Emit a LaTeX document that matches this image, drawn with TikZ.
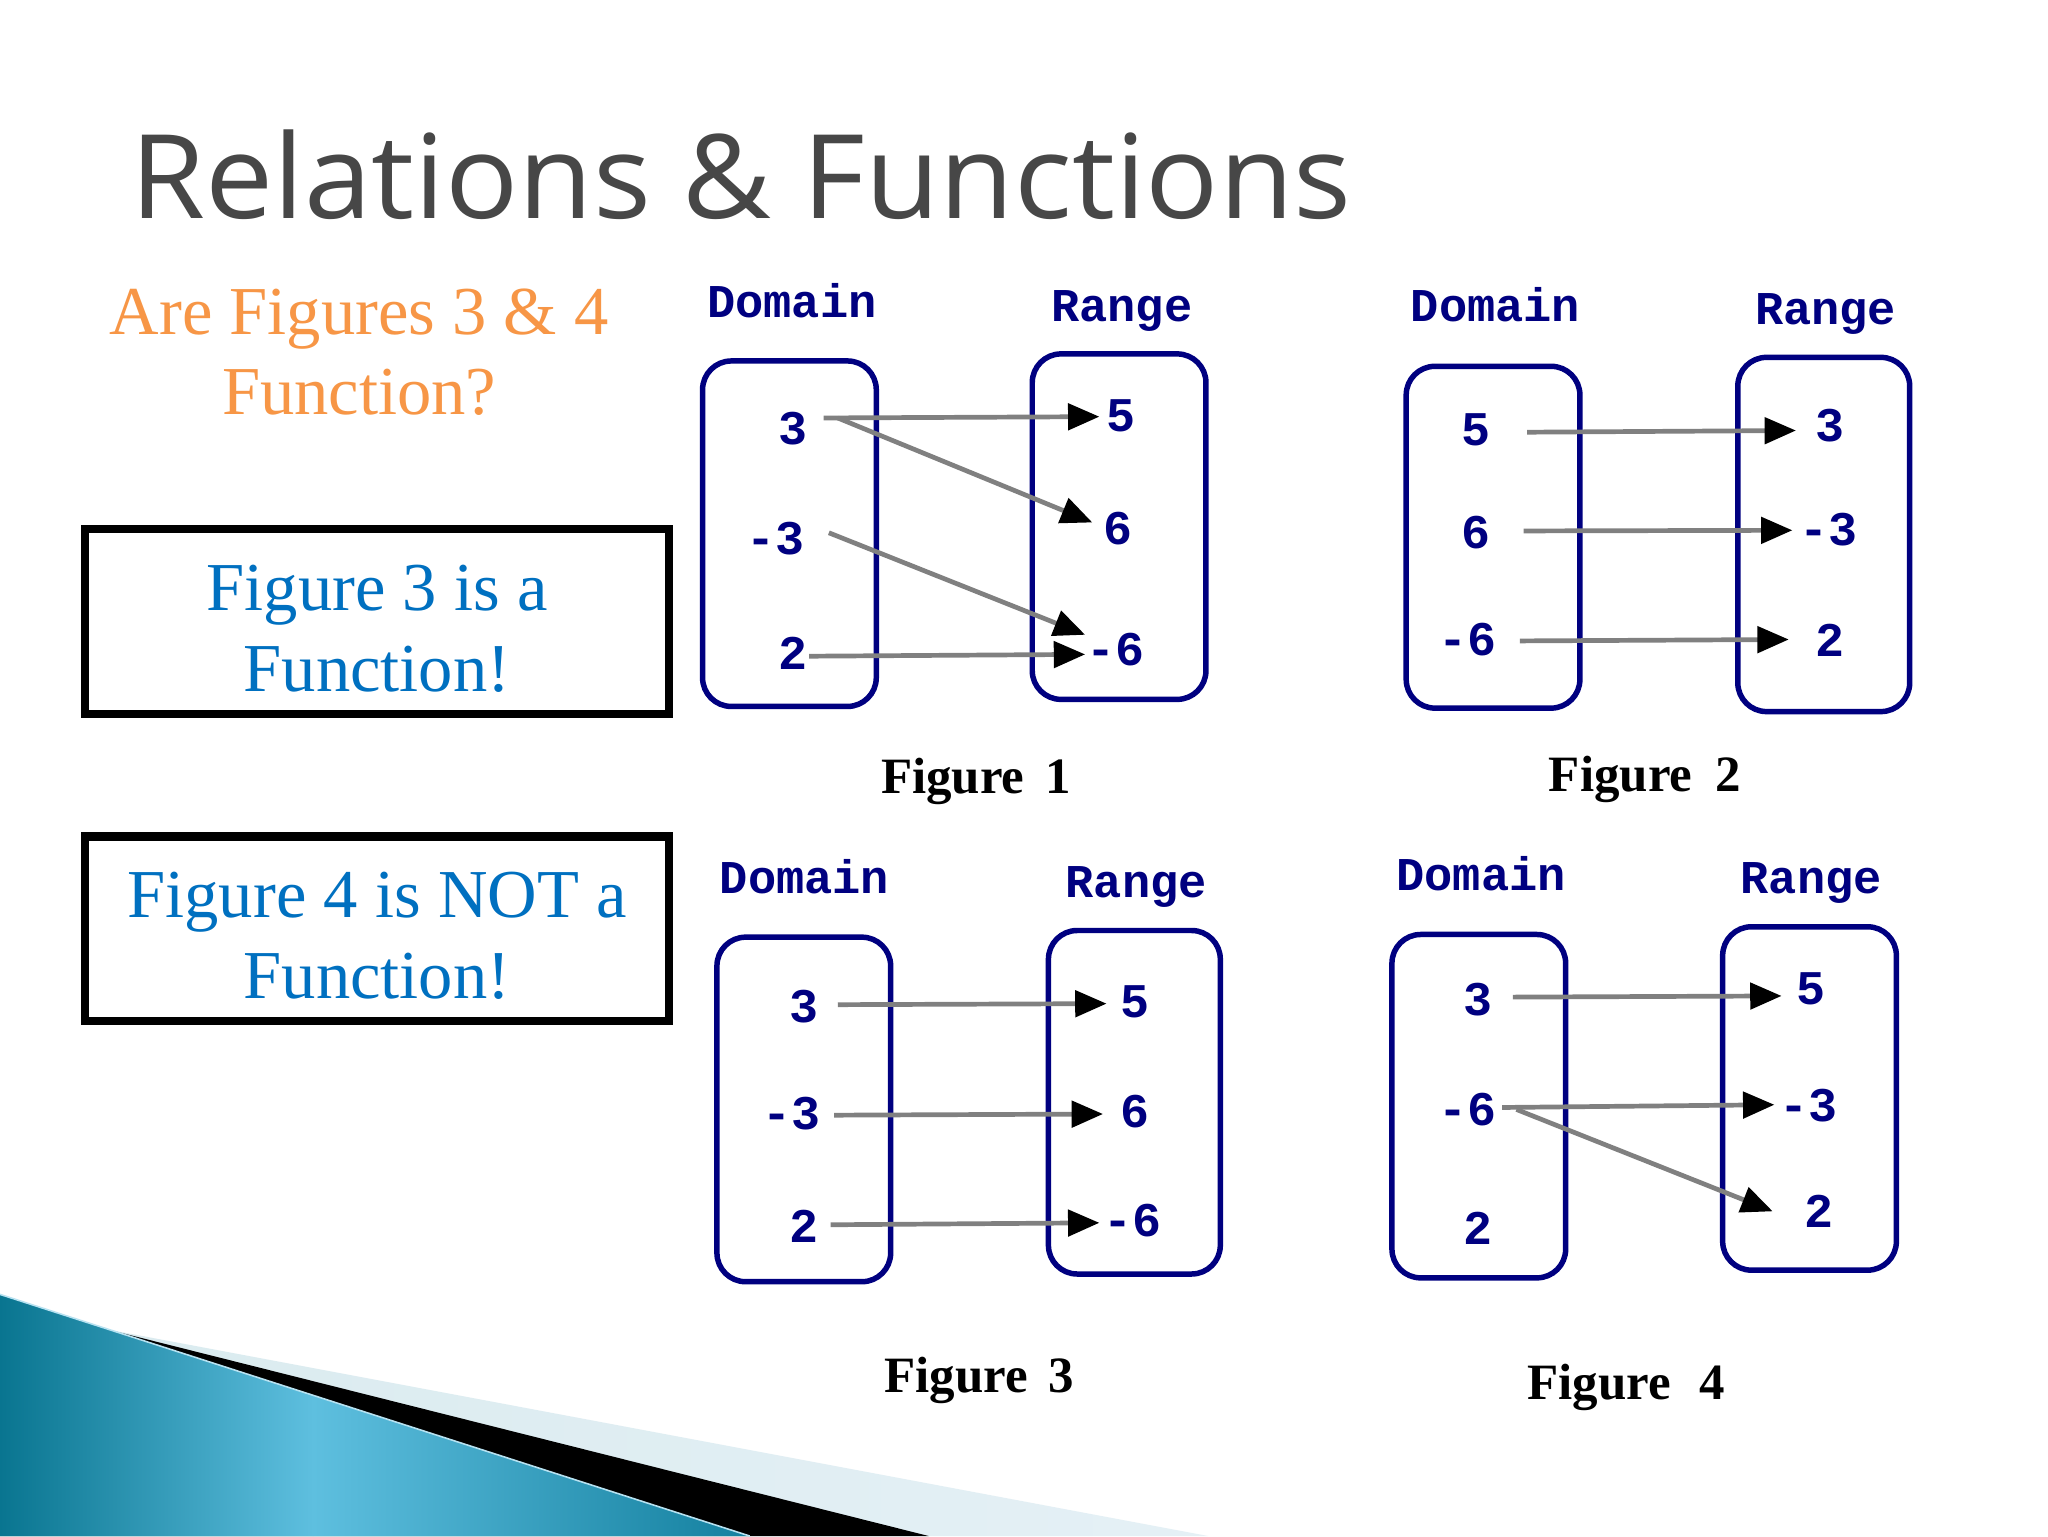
\documentclass[tikz,border=0pt]{standalone}
\usepackage{fontspec}
\setmainfont{Liberation Serif}
\newfontfamily\titlefont[FakeStretch=1.04]{Open Sans}
\newfontfamily\pixfont{Liberation Mono}
\usetikzlibrary{arrows.meta}
\definecolor{titlegray}{HTML}{474747}
\definecolor{qorange}{HTML}{F79646}
\definecolor{ablue}{HTML}{0070C0}
\definecolor{setnavy}{HTML}{000080}
\definecolor{arrgray}{HTML}{808080}
\definecolor{tealA}{HTML}{097590}
\definecolor{tealB}{HTML}{5EBFDF}
\definecolor{tealC}{HTML}{127F9E}
\definecolor{bandblue}{HTML}{D3E6EF}
\newcommand\conn[4]{\draw[arrowline] ([shift={(#2)}]#1.center) -- ([shift={(#4)}]#3.center);}
\begin{document}
\begin{tikzpicture}[x=1pt,y=-1pt,
  setbox/.style={draw=setnavy, line width=4.2pt, rounded corners=22pt, inner sep=0pt},
  num/.style={font=\pixfont\bfseries\fontsize{37}{40}\selectfont, text=setnavy, inner sep=0pt},
  setlabel/.style={font=\pixfont\bfseries\fontsize{36}{40}\selectfont, text=setnavy, inner sep=0pt, anchor=base west},
  figlabel/.style={font=\bfseries\fontsize{39}{44}\selectfont, text=black, inner sep=0pt, anchor=base west},
  arrowline/.style={draw=arrgray, line width=3.6pt, -{Triangle[length=24pt,width=20pt,color=black]}},
  answerbox/.style={draw=black, line width=6.4pt, align=center, text=ablue, font=\fontsize{52.5}{62}\selectfont, inner sep=0pt, minimum width=446.7pt, minimum height=141.5pt}
]
\useasboundingbox (0,0) rectangle (1568,1176);
\fill[white] (0,0) rectangle (1568,1176);

% bottom-left decoration
\shade[left color=bandblue!85!teal!50, right color=bandblue!60!white] (0,991) -- (83,1018) -- (925,1176) -- (0,1176) -- cycle;
\fill[black] (0,991) -- (83,1018) -- (711,1176) -- (0,1176) -- cycle;
\begin{scope}
  \clip (0,991) -- (574,1176) -- (0,1176) -- cycle;
  \shade[left color=tealA, right color=tealB] (0,985) rectangle (240,1180);
  \shade[left color=tealB, right color=tealC] (239.5,985) rectangle (580,1180);
\end{scope}
\draw[white!55!tealB, line width=1.2pt] (0,991) -- (574,1176);

% title
\node[anchor=base west, inner sep=0pt, text=titlegray] (title) at (99.5,167.2)
  {\titlefont\fontsize{89.4}{100}\selectfont Relations \& Functions};

% question and answers
\node[anchor=north, inner sep=0pt, align=center, text=qorange, font=\fontsize{52.5}{62}\selectfont] (question) at (275,220.6)
  {Are Figures 3 \& 4\\Function?};
\node[answerbox] (ans3) at (288.65,475.9) {\rule{0pt}{46pt}Figure 3 is a\\Function!};
\node[answerbox] (ans4) at (288.65,711.05) {\rule{0pt}{46pt}Figure 4 is NOT a\\Function!};

% ---------- Figure 1 ----------
\node[setbox, minimum width=133pt, minimum height=264.5pt] (D1) at (604.4,408.6) {};
\node[setbox, minimum width=133pt, minimum height=264.5pt] (R1) at (856.8,403.2) {};
\node[setlabel] (D1lab) at (541.3,243.2) {Domain};
\node[setlabel] (R1lab) at (804.7,245.9) {Range};
\node[num] (d13) at (606.9,328.2) {3};
\node[num] (d1m3) at (594.1,412.4) {-3};
\node[num] (d12) at (606.9,500.2) {2};
\node[num] (r15) at (858.4,318) {5};
\node[num] (r16) at (855.6,404.3) {6};
\node[num] (r1m6) at (853.8,497) {-6};
\conn{d13}{23.6,-8.2}{r15}{-16.7,1}
\conn{d13}{34.5,-8.2}{r16}{-19.3,-4.3}
\conn{d1m3}{40.5,-4.5}{r1m6}{-23,-11}
\conn{d12}{12.6,2.2}{r1m6}{-23,4}
\node[figlabel] (fig1) at (674.4,607.7) {Figure\hspace{16pt}1};

% ---------- Figure 2 ----------
\node[setbox, minimum width=133pt, minimum height=261.7pt] (D2) at (1143.1,411.3) {};
\node[setbox, minimum width=131.6pt, minimum height=271.2pt] (R2) at (1396.3,409.2) {};
\node[setlabel] (D2lab) at (1080,245.9) {Domain};
\node[setlabel] (R2lab) at (1343.5,248.6) {Range};
\node[num] (d25) at (1129.7,328.7) {5};
\node[num] (d26) at (1129.7,407.9) {6};
\node[num] (d2m6) at (1123.5,489.4) {-6};
\node[num] (r23) at (1400.9,326) {3};
\node[num] (r2m3) at (1400.1,405.7) {-3};
\node[num] (r22) at (1400.9,490.2) {2};
\conn{d25}{39.5,2.2}{r23}{-25.9,3.6}
\conn{d26}{36.8,-1.4}{r2m3}{-27.8,0.3}
\conn{d2m6}{40.2,1.3}{r22}{-31.4,-0.6}
\node[figlabel] (fig2) at (1185.7,606.3) {Figure\hspace{18pt}2};

% ---------- Figure 3 ----------
\node[setbox, minimum width=133pt, minimum height=263.8pt] (D3) at (615.4,849.4) {};
\node[setbox, minimum width=131.6pt, minimum height=263pt] (R3) at (868.5,843.9) {};
\node[setlabel] (D3lab) at (550.9,684.4) {Domain};
\node[setlabel] (R3lab) at (815.7,687.4) {Range};
\node[num] (d33) at (615.5,770.3) {3};
\node[num] (d3m3) at (606,852.7) {-3};
\node[num] (d32) at (615.5,938.6) {2};
\node[num] (r35) at (869,766.7) {5};
\node[num] (r36) at (869,851.4) {6};
\node[num] (r3m6) at (866.7,934.2) {-6};
\conn{d33}{25.9,-1.1}{r35}{-21.8,1.7}
\conn{d3m3}{32.7,1.1}{r36}{-24.5,1.5}
\conn{d32}{20.5,-0.9}{r3m6}{-25,2}
\node[figlabel] (fig3) at (677.1,1065.8) {Figure\hspace{16pt}3};

% ---------- Figure 4 ----------
\node[setbox, minimum width=133pt, minimum height=262.9pt] (D4) at (1132.2,846.9) {};
\node[setbox, minimum width=133pt, minimum height=262.9pt] (R4) at (1385.4,841) {};
\node[setlabel] (D4lab) at (1069,681.5) {Domain};
\node[setlabel] (R4lab) at (1332.5,684.4) {Range};
\node[num] (d43) at (1131.5,765.5) {3};
\node[num] (d4m6) at (1123.2,849.6) {-6};
\node[num] (d42) at (1131.5,940.5) {2};
\node[num] (r45) at (1386.8,756.9) {5};
\node[num] (r4m3) at (1384.8,846.7) {-3};
\node[num] (r42) at (1392.3,927.6) {2};
\conn{d43}{26.7,-2.1}{r45}{-22.8,5.6}
\conn{d4m6}{26.8,-1.7}{r4m3}{-26.3,-0.9}
\conn{d4m6}{37.8,-0.2}{r42}{-35.1,-0.2}
\node[figlabel] (fig4) at (1169.2,1071.7) {Figure\hspace{22pt}4};
\end{tikzpicture}
\end{document}
